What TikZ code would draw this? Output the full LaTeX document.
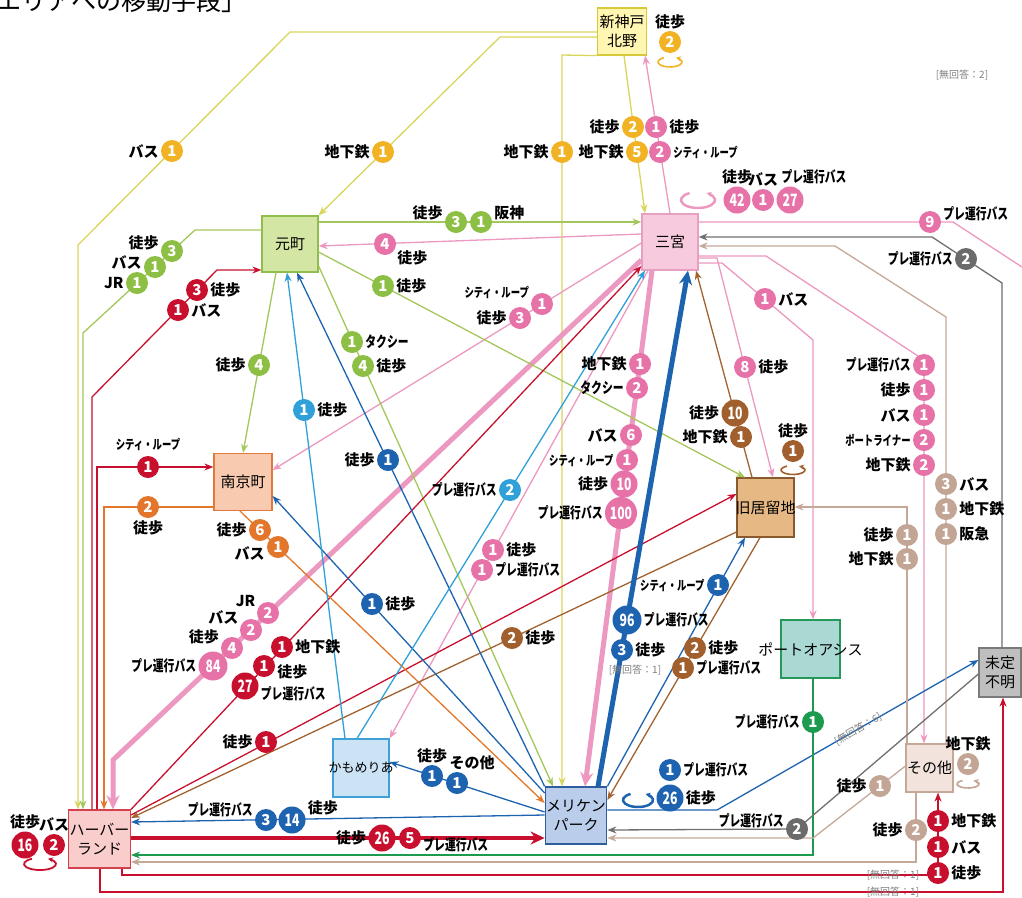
\documentclass[tikz,border=0pt]{standalone}
\usepackage{fontspec}
\setmainfont{Noto Sans CJK JP}
\newfontfamily\jpnarrow[FakeStretch=0.72]{Noto Sans CJK JP}
\usetikzlibrary{arrows.meta}
\definecolor{ylwL}{HTML}{D9D45C}\definecolor{ylwB}{HTML}{F1B324}
\definecolor{shinF}{HTML}{FFF6B2}\definecolor{shinD}{HTML}{D7C93A}
\definecolor{pnkL}{HTML}{EC98C0}\definecolor{pnkB}{HTML}{E672A8}
\definecolor{sanF}{HTML}{F7CADE}\definecolor{sanD}{HTML}{E6A0C2}
\definecolor{grnL}{HTML}{A3C75B}\definecolor{grnB}{HTML}{8CBF44}
\definecolor{motoF}{HTML}{D4E6A4}\definecolor{motoD}{HTML}{8FBE4C}
\definecolor{redL}{HTML}{C8102E}\definecolor{redB}{HTML}{C8102E}
\definecolor{hbF}{HTML}{F9CDCB}\definecolor{hbD}{HTML}{D4404C}
\definecolor{orgL}{HTML}{E2772B}\definecolor{orgB}{HTML}{E2772B}
\definecolor{nanF}{HTML}{F8CBB0}\definecolor{nanD}{HTML}{E2793C}
\definecolor{brnL}{HTML}{A2622F}\definecolor{brnB}{HTML}{A05F2C}
\definecolor{kyuF}{HTML}{E6B984}\definecolor{kyuD}{HTML}{8A5A2E}
\definecolor{bluL}{HTML}{1D63B0}\definecolor{bluB}{HTML}{1D63B0}
\definecolor{meriF}{HTML}{BACDEB}\definecolor{meriD}{HTML}{2E5D9C}
\definecolor{lbluL}{HTML}{2FA0D8}\definecolor{lbluB}{HTML}{2FA0D8}
\definecolor{kamoF}{HTML}{CCE3F6}\definecolor{kamoD}{HTML}{3EA2D6}
\definecolor{dgrnL}{HTML}{1C9A4E}\definecolor{dgrnB}{HTML}{1C9A4E}
\definecolor{portF}{HTML}{A9D9D2}\definecolor{portD}{HTML}{27985C}
\definecolor{tanL}{HTML}{C5A898}\definecolor{tanB}{HTML}{C2A594}
\definecolor{sonoF}{HTML}{F2E4DC}\definecolor{sonoD}{HTML}{C5A898}
\definecolor{gryL}{HTML}{6F6F6F}\definecolor{gryB}{HTML}{6B6B6B}
\definecolor{miteiF}{HTML}{BFBFBF}\definecolor{miteiD}{HTML}{7A7A7A}
\tikzset{area/.style={rectangle,draw,line width=1.2pt,align=center,inner sep=1pt,font=\fontsize{15}{19}\selectfont},
badge/.style={circle,fill=#1,text=white,inner sep=0pt,minimum size=22pt,font=\bfseries\fontsize{15}{15}\selectfont},
bigbadge/.style={badge=#1,minimum size=27pt,font=\jpnarrow\bfseries\fontsize{17}{17}\selectfont},
lbl/.style={text=black,fill=none,inner sep=2pt,font=\bfseries\fontsize{15}{15}\selectfont},
nlbl/.style={lbl,font=\jpnarrow\bfseries\fontsize{15}{15}\selectfont},
slbl/.style={lbl,font=\jpnarrow\bfseries\fontsize{13}{13}\selectfont},
nokai/.style={text=black!50,inner sep=1pt,font=\fontsize{10}{10}\selectfont},
line/.style={line width=1.3pt,-{Stealth[length=9pt,width=7pt]}},
heavy/.style={line width=5pt,-{Stealth[length=14pt,width=13pt]}},
loopline/.style={line width=1.6pt,-{Stealth[length=5pt,width=5pt]}}}
\begin{document}
\begin{tikzpicture}[x=1pt,y=-1pt]
\useasboundingbox (0,0) rectangle (1022,897);
\node[anchor=west,inner sep=0pt,font=\fontsize{25}{25}\selectfont] (title) at (-4,1) {エリアへの移動手段」};
\node[nokai] (nk2) at (962,75) {[無回答：2]};
% areas
\node[area,fill=shinF,draw=shinD,minimum width=49pt,minimum height=47pt] (shin) at (622,31.5) {新神戸\\北野};
\node[area,fill=sanF,draw=sanD,minimum width=56pt,minimum height=56pt] (san) at (670,242) {三宮};
\node[area,fill=motoF,draw=motoD,minimum width=56pt,minimum height=56pt] (moto) at (290,244) {元町};
\node[area,fill=nanF,draw=nanD,minimum width=58pt,minimum height=57pt] (nan) at (243,482) {南京町};
\node[area,fill=kyuF,draw=kyuD,minimum width=57pt,minimum height=59pt] (kyu) at (765.5,507.5) {\makebox[0pt]{旧居留地}};
\node[area,fill=portF,draw=portD,minimum width=59pt,minimum height=58pt] (port) at (810.5,649) {\makebox[0pt]{ポートオアシス}};
\node[area,fill=miteiF,draw=miteiD,minimum width=42pt,minimum height=49pt] (mitei) at (1000,672.5) {未定\\不明};
\node[area,fill=sonoF,draw=sonoD,minimum width=47pt,minimum height=48pt] (sono) at (929.5,768) {その他};
\node[area,fill=kamoF,draw=kamoD,minimum width=56pt,minimum height=58pt,font=\fontsize{13}{15}\selectfont] (kamo) at (361,768) {\makebox[0pt]{かもめりあ}};
\node[area,fill=meriF,draw=meriD,minimum width=58pt,minimum height=57pt] (meri) at (576,815.5) {メリケン\\パーク};
\node[area,fill=hbF,draw=hbD,minimum width=57pt,minimum height=58pt] (hb) at (99.5,839) {ハーバー\\ランド};
% connectors
\draw[line,ylwL] (shin.west |- 0,32) -- (290,32) -- (78,245) -- (hb.north -| 78,0);
\draw[line,ylwL] (shin.west |- 0,37) -- (500,37) -- (moto.north east);
\draw[line,ylwL] (shin.south west) -- (562,55) -- (meri.north -| 562,0);
\draw[line,ylwL] (shin.south -| 624,0) -- (san.north -| 645,0);
\draw[line,pnkL] (san.north -| 670,0) -- (shin.south -| 645,0);
\draw[line,pnkL] (san.west |- 0,234) -- (moto.east |- 0,246);
\draw[line,pnkL] (san.west |- 0,243) -- (nan.east |- 0,470);
\draw[heavy,pnkL] (san.west |- 0,260) -- (113,760) -- (hb.north -| 113,0);
\draw[heavy,pnkL] (san.south -| 652,0) -- (meri.north -| 585,0);
\draw[line,pnkL] (san.south -| 648,0) -- (kamo.north east);
\draw[line,pnkL] (san.east |- 0,258) -- (717,258) -- (kyu.north -| 773,0);
\draw[line,pnkL] (san.east |- 0,263) -- (722,263) -- (813,340) -- (port.north -| 813,0);
\draw[line,pnkL] (san.east |- 0,256) -- (766,256) -- (924,360) -- (sono.north -| 924,0);
\coordinate (p10end) at (1022,267);
\draw[line,pnkL,-] (san.east |- 0,222) -- (953,222) -- (p10end);
\draw[line,grnL] (moto.east |- 0,222) -- (san.west |- 0,222);
\draw[line,grnL] (moto.west |- 0,230) -- (195,230) -- (83,333) -- (hb.north -| 83,0);
\draw[line,grnL] (moto.south -| 276,0) -- (nan.north -| 243,0);
\draw[line,grnL] (moto.east |- 0,252) -- (kyu.north -| 745,0);
\draw[line,grnL] (moto.east |- 0,266) -- (meri.north -| 553,0);
\draw[line,redL] (hb.north -| 92,0) -- (92,397) -- (217,270) -- (moto.west |- 0,270);
\draw[line,redL] (hb.north -| 97,0) -- (97,467) -- (nan.west |- 0,467);
\draw[line,redL] (hb.north east) -- (san.west |- 0,266);
\draw[line,redL] (hb.east |- 0,815) -- (kyu.west |- 0,494);
\draw[heavy,redL,line width=4pt] (hb.east |- 0,838) -- (meri.west |- 0,838);
\draw[line,redL] (hb.south -| 122,0) -- (122,875) -- (938,875) -- (sono.south -| 938,0);
\draw[line,redL] (hb.south -| 100,0) -- (100,892) -- (1003,892) -- (mitei.south -| 1003,0);
\draw[line,orgL] (nan.west |- 0,507) -- (104,507) -- (hb.north -| 104,0);
\draw[line,orgL] (nan.south -| 240,0) -- (meri.west |- 0,803);
\draw[line,brnL] (kyu.north -| 752,0) -- (san.south -| 696,0);
\draw[line,brnL] (kyu.west |- 0,532) -- (hb.east |- 0,818);
\draw[line,brnL] (kyu.south -| 760,0) -- (meri.east |- 0,800);
\draw[heavy,bluL] (meri.north -| 598,0) -- (san.south -| 688,0);
\draw[line,bluL] (meri.north east) -- (kyu.south -| 745,0);
\draw[line,bluL] (meri.north west) -- (moto.south -| 297,0);
\draw[line,bluL] (meri.west |- 0,793) -- (nan.east |- 0,496);
\draw[line,bluL] (meri.west |- 0,812) -- (kamo.east |- 0,762);
\draw[line,bluL] (meri.west |- 0,815) -- (hb.east |- 0,822);
\draw[line,bluL] (meri.east |- 0,810) -- (717,810) -- (mitei.west |- 0,660);
\draw[line,lbluL] (kamo.north -| 345,0) -- (moto.south -| 287,0);
\draw[line,lbluL] (kamo.north -| 357,0) -- (san.south -| 645,0);
\draw[line,dgrnL] (port.south -| 813,0) -- (813,855) -- (hb.east |- 0,855);
\draw[line,tanL] (sono.north -| 946,0) -- (946,317) -- (835,246) -- (san.east |- 0,246);
\draw[line,tanL] (sono.north -| 907,0) -- (907,507) -- (kyu.east |- 0,507);
\draw[line,tanL] (sono.west |- 0,766) -- (813,838) -- (meri.east |- 0,838);
\draw[line,tanL] (sono.south -| 916,0) -- (916,862) -- (hb.east |- 0,862);
\draw[line,gryL] (mitei.north -| 1002,0) -- (1002,283) -- (932,237) -- (san.east |- 0,237);
\draw[line,gryL] (mitei.west |- 0,674) -- (797,829) -- (meri.east |- 0,830);
% self loops
\draw[loopline,ylwB] (670,62) ++(120:12pt and 5pt) arc[start angle=120,end angle=420,x radius=12pt,y radius=5pt];
\draw[loopline,pnkL,line width=2.5pt] (698,200) ++(120:17pt and 8pt) arc[start angle=120,end angle=420,x radius=17pt,y radius=8pt];
\draw[loopline,redB,line width=1.8pt] (40,864) ++(120:16pt and 6pt) arc[start angle=120,end angle=420,x radius=16pt,y radius=6pt];
\draw[loopline,brnB] (793,470) ++(120:12pt and 4.5pt) arc[start angle=120,end angle=420,x radius=12pt,y radius=4.5pt];
\draw[loopline,bluB,line width=2.5pt] (638,800) ++(120:15pt and 7pt) arc[start angle=120,end angle=420,x radius=15pt,y radius=7pt];
\draw[loopline,tanB] (968,784) ++(120:11pt and 4pt) arc[start angle=120,end angle=420,x radius=11pt,y radius=4pt];
% counts
\node[badge=ylwB,label={[lbl]left:バス}] (y1a) at (172,151) {1};
\node[badge=ylwB,label={[lbl]left:地下鉄}] (y2a) at (383,152) {1};
\node[badge=ylwB,label={[lbl]left:地下鉄}] (y3a) at (562,152) {1};
\node[badge=ylwB,label={[lbl]left:徒歩}] (y4a) at (633,127) {2};
\node[badge=ylwB,label={[lbl]left:地下鉄}] (y4b) at (637,152) {5};
\node[badge=ylwB,label={[lbl]above:徒歩}] (y0a) at (670,42) {2};
\node[badge=pnkB,label={[lbl]right:徒歩}] (p1a) at (656,127) {1};
\node[badge=pnkB,label={[slbl]right:シティ・ループ}] (p1b) at (660,152) {2};
\node[bigbadge=pnkB,label={[lbl]above:徒歩}] (p0a) at (737,200) {42};
\node[badge=pnkB,label={[lbl]above:バス}] (p0b) at (763,200) {1};
\node[bigbadge=pnkB,label={[nlbl,xshift=24pt]above:プレ運行バス}] (p0c) at (790,200) {27};
\node[badge=pnkB,label={[lbl]-25:徒歩}] (p2a) at (385,244) {4};
\node[badge=pnkB,label={[slbl]165:シティ・ループ}] (p3a) at (542,304) {1};
\node[badge=pnkB,label={[lbl]left:徒歩}] (p3b) at (520,318) {3};
\node[badge=pnkB,label={[lbl]160:JR}] (p4a) at (268,613) {2};
\node[badge=pnkB,label={[lbl]160:バス}] (p4b) at (251,630) {2};
\node[badge=pnkB,label={[lbl]170:徒歩}] (p4c) at (232,648) {4};
\node[bigbadge=pnkB,minimum size=29pt,label={[nlbl]left:プレ運行バス}] (p4d) at (213,666) {84};
\node[badge=pnkB,label={[lbl]left:地下鉄}] (p5a) at (640,364) {1};
\node[badge=pnkB,label={[nlbl]left:タクシー}] (p5b) at (637,388) {2};
\node[badge=pnkB,label={[lbl]left:バス}] (p5c) at (631,435) {6};
\node[badge=pnkB,label={[slbl]left:シティ・ループ}] (p5d) at (627,460) {1};
\node[bigbadge=pnkB,label={[lbl]left:徒歩}] (p5e) at (624,484) {10};
\node[bigbadge=pnkB,minimum size=32pt,label={[nlbl]left:プレ運行バス}] (p5f) at (621,513) {100};
\node[badge=pnkB,label={[lbl]right:徒歩}] (p6a) at (493,550) {1};
\node[badge=pnkB,label={[nlbl]right:プレ運行バス}] (p6b) at (482,570) {1};
\node[badge=pnkB,label={[lbl]right:徒歩}] (p7a) at (745,367) {8};
\node[badge=pnkB,label={[lbl]right:バス}] (p8a) at (765,299) {1};
\node[badge=pnkB,label={[nlbl]left:プレ運行バス}] (p9a) at (924,365) {1};
\node[badge=pnkB,label={[lbl]left:徒歩}] (p9b) at (924,390) {1};
\node[badge=pnkB,label={[lbl]left:バス}] (p9c) at (924,415) {1};
\node[badge=pnkB,label={[slbl]left:ポートライナー}] (p9d) at (924,440) {2};
\node[badge=pnkB,label={[lbl]left:地下鉄}] (p9e) at (924,465) {2};
\node[badge=pnkB,label={[nlbl,yshift=8pt]right:プレ運行バス}] (p10a) at (930,222) {9};
\node[badge=grnB,label={[lbl,yshift=9pt]left:徒歩}] (g1a) at (456,222) {3};
\node[badge=grnB,label={[lbl,yshift=9pt]right:阪神}] (g1b) at (481,222) {1};
\node[badge=grnB,label={[lbl,yshift=8pt]left:徒歩}] (g2a) at (172,251) {3};
\node[badge=grnB,label={[lbl,yshift=5pt]left:バス}] (g2b) at (155,267) {1};
\node[badge=grnB,label={[lbl]left:JR}] (g2c) at (137,283) {1};
\node[badge=grnB,label={[lbl]left:徒歩}] (g3a) at (259,365) {4};
\node[badge=grnB,label={[lbl]right:徒歩}] (g4a) at (383,286) {1};
\node[badge=grnB,label={[nlbl]right:タクシー}] (g5a) at (352,342) {1};
\node[badge=grnB,label={[lbl]right:徒歩}] (g5b) at (363,366) {4};
\node[badge=redB,label={[lbl]right:徒歩}] (r1a) at (197,290) {3};
\node[badge=redB,label={[lbl]right:バス}] (r1b) at (178,310) {1};
\node[badge=redB,label={[slbl,yshift=3pt]above:シティ・ループ}] (r2a) at (148,467) {1};
\node[badge=redB,label={[lbl]right:地下鉄}] (r3a) at (282,647) {1};
\node[badge=redB,label={[lbl,yshift=-6pt]right:徒歩}] (r3b) at (264,666) {1};
\node[bigbadge=redB,label={[nlbl,yshift=-8pt]right:プレ運行バス}] (r3c) at (245,686) {27};
\node[badge=redB,label={[lbl]left:徒歩}] (r4a) at (266,742) {1};
\node[bigbadge=redB,label={[lbl]left:徒歩}] (r5a) at (382,838) {26};
\node[badge=redB,label={[nlbl,yshift=-7pt]right:プレ運行バス}] (r5b) at (410,838) {5};
\node[badge=redB,label={[lbl]right:地下鉄}] (r6a) at (938,821) {1};
\node[badge=redB,label={[lbl]right:バス}] (r6b) at (938,847) {1};
\node[badge=redB,label={[lbl]right:徒歩}] (r6c) at (938,873) {1};
\node[bigbadge=redB,label={[lbl]above:徒歩}] (r0a) at (25,845) {16};
\node[badge=redB,label={[lbl]above:バス}] (r0b) at (54,845) {2};
\node[badge=orgB,label={[lbl]below:徒歩}] (o1a) at (148,507) {2};
\node[badge=orgB,label={[lbl]left:徒歩}] (o2a) at (260,530) {6};
\node[badge=orgB,label={[lbl,yshift=-6pt]left:バス}] (o2b) at (278,547) {1};
\node[bigbadge=brnB,label={[lbl]left:徒歩}] (b1a) at (735,413) {10};
\node[badge=brnB,label={[lbl]left:地下鉄}] (b1b) at (741,437) {1};
\node[badge=brnB,label={[lbl]above:徒歩}] (b0a) at (793,451) {1};
\node[badge=brnB,label={[lbl]right:徒歩}] (b3a) at (512,638) {2};
\node[badge=brnB,label={[lbl]right:徒歩}] (b4a) at (695,648) {2};
\node[badge=brnB,label={[nlbl]right:プレ運行バス}] (b4b) at (683,668) {1};
\node[bigbadge=bluB,minimum size=29pt,label={[nlbl]right:プレ運行バス}] (bl1a) at (627,620) {96};
\node[badge=bluB,label={[lbl]right:徒歩}] (bl1b) at (622,650) {3};
\node[nokai] (nk1a) at (635,670) {[無回答：1]};
\node[badge=bluB,label={[slbl]left:シティ・ループ}] (bl2a) at (718,585) {1};
\node[badge=bluB,label={[lbl]left:徒歩}] (bl3a) at (388,460) {1};
\node[badge=bluB,label={[lbl]right:徒歩}] (bl4a) at (372,604) {1};
\node[badge=bluB,label={[lbl]above:徒歩}] (bl5a) at (432,776) {1};
\node[badge=bluB,label={[lbl,xshift=15pt]above:その他}] (bl5b) at (457,783) {1};
\node[badge=bluB,label={[nlbl,yshift=10pt]left:プレ運行バス}] (bl6a) at (266,820) {3};
\node[bigbadge=bluB,label={[lbl,yshift=12pt]right:徒歩}] (bl6b) at (292,820) {14};
\node[badge=bluB,label={[nlbl]right:プレ運行バス}] (bl0a) at (670,770) {1};
\node[bigbadge=bluB,label={[lbl]right:徒歩}] (bl0b) at (670,798) {26};
\node[nokai,rotate=30] (nk6) at (858,729) {[無回答：6]};
\node[badge=lbluB,label={[lbl]right:徒歩}] (lb1a) at (304,410) {1};
\node[badge=lbluB,label={[nlbl]left:プレ運行バス}] (lb2a) at (510,490) {2};
\node[badge=dgrnB,label={[nlbl]left:プレ運行バス}] (dg1a) at (813,722) {1};
\node[badge=tanB,label={[lbl]right:バス}] (t1a) at (946,484) {3};
\node[badge=tanB,label={[lbl]right:地下鉄}] (t1b) at (946,509) {1};
\node[badge=tanB,label={[lbl]right:阪急}] (t1c) at (946,534) {1};
\node[badge=tanB,label={[lbl]left:徒歩}] (t2a) at (907,535) {1};
\node[badge=tanB,label={[lbl]left:地下鉄}] (t2b) at (907,559) {1};
\node[badge=tanB,label={[lbl]left:徒歩}] (t3a) at (880,786) {1};
\node[badge=tanB,label={[lbl]left:徒歩}] (t4a) at (916,830) {2};
\node[badge=tanB,label={[lbl]above:地下鉄}] (t0a) at (968,764) {2};
\node[badge=gryB,label={[nlbl]left:プレ運行バス}] (gr1a) at (966,259) {2};
\node[badge=gryB,label={[nlbl,yshift=8pt]left:プレ運行バス}] (gr2a) at (797,829) {2};
\node[nokai] (nk1b) at (893,875) {[無回答：1]};
\node[nokai] (nk1c) at (893,892) {[無回答：1]};
\end{tikzpicture}
\end{document}
